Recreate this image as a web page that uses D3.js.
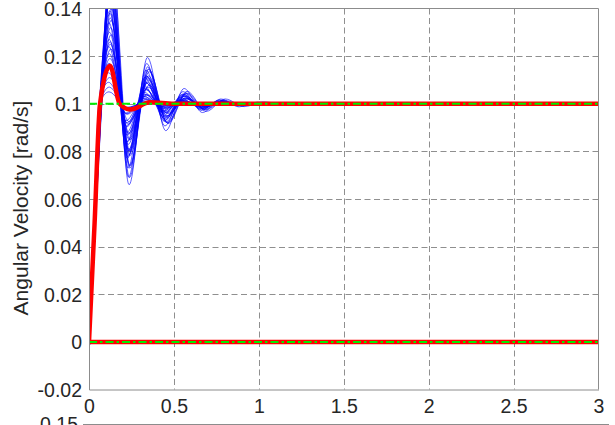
<!DOCTYPE html>
<html>
<head>
<meta charset="utf-8">
<script src="https://cdn.jsdelivr.net/npm/d3@7"></script>
<style>
  html, body { margin: 0; padding: 0; background: #ffffff; }
  svg { display: block; }
  text { font-family: "Liberation Sans", Arial, Helvetica, sans-serif; fill: #262626; }
</style>
</head>
<body>
<svg id="chart" width="615" height="425"></svg>
<script>
// Axis ticks
const xTicks = [0, 0.5, 1, 1.5, 2, 2.5, 3];
const xTickLabels = ["0", "0.5", "1", "1.5", "2", "2.5", "3"];
const yTicks = [-0.02, 0, 0.02, 0.04, 0.06, 0.08, 0.1, 0.12, 0.14];
const yTickLabels = ["-0.02", "0", "0.02", "0.04", "0.06", "0.08", "0.1", "0.12", "0.14"];
const yLabel = "Angular Velocity [rad/s]";

// Commanded angular velocity levels (dashed reference lines)
const referenceLevels = [0.1, 0];

// Nominal responses [time s, rad/s]
const nominalStep = [[0,0],[0.033,0.05],[0.065,0.1],[0.124,0.116],[0.18,0.1],[0.242,0.0976],[0.36,0.1006],[0.5,0.1],[3,0.1]];
const nominalZero = [[0,0],[3,0]];

// Monte Carlo runs, step channel: [time s, rad/s] at the turning points
const runsStep = [
  [[0,0],[0.036,0.05],[0.071,0.1],[0.128,0.160],[0.236,0.066],[0.344,0.1194],[0.452,0.0887],[0.56,0.1064],[0.668,0.0963],[0.776,0.102],[0.884,0.0987],[0.992,0.1007],[1.1,0.1],[3,0.1]],
  [[0,0],[0.035,0.05],[0.069,0.1],[0.126,0.156],[0.233,0.0692],[0.34,0.1169],[0.447,0.0907],[0.554,0.1051],[0.661,0.0972],[0.768,0.1016],[0.875,0.0992],[0.98,0.1],[3,0.1]],
  [[0,0],[0.034,0.05],[0.067,0.1],[0.124,0.152],[0.23,0.073],[0.336,0.1141],[0.442,0.0927],[0.548,0.1038],[0.654,0.098],[0.76,0.101],[0.87,0.1],[3,0.1]],
  [[0,0],[0.037,0.05],[0.073,0.1],[0.13,0.15],[0.24,0.073],[0.35,0.1146],[0.46,0.0921],[0.57,0.1043],[0.68,0.0977],[0.79,0.1012],[0.9,0.0993],[1.0,0.1],[3,0.1]],
  [[0,0],[0.033,0.05],[0.065,0.1],[0.122,0.148],[0.226,0.077],[0.33,0.1111],[0.434,0.0947],[0.538,0.1026],[0.642,0.0988],[0.746,0.1006],[0.84,0.1],[3,0.1]],
  [[0,0],[0.035,0.05],[0.07,0.1],[0.127,0.146],[0.239,0.0742],[0.351,0.1144],[0.463,0.0919],[0.575,0.1045],[0.687,0.0975],[0.799,0.1014],[0.911,0.0992],[1.02,0.1],[3,0.1]],
  [[0,0],[0.034,0.05],[0.068,0.1],[0.125,0.144],[0.23,0.0802],[0.335,0.1089],[0.44,0.096],[0.545,0.1018],[0.65,0.0992],[0.75,0.1],[3,0.1]],
  [[0,0],[0.032,0.05],[0.063,0.1],[0.12,0.142],[0.228,0.0777],[0.336,0.1118],[0.444,0.0937],[0.552,0.1033],[0.66,0.0982],[0.768,0.1009],[0.87,0.1],[3,0.1]],
  [[0,0],[0.038,0.05],[0.075,0.1],[0.132,0.14],[0.241,0.08],[0.35,0.11],[0.459,0.095],[0.568,0.1025],[0.677,0.0988],[0.786,0.1006],[0.89,0.1],[3,0.1]],
  [[0,0],[0.033,0.05],[0.066,0.1],[0.123,0.138],[0.226,0.084],[0.329,0.1067],[0.432,0.0972],[0.535,0.1012],[0.638,0.0995],[0.74,0.1],[3,0.1]],
  [[0,0],[0.035,0.05],[0.069,0.1],[0.126,0.136],[0.236,0.0802],[0.346,0.1109],[0.456,0.094],[0.566,0.1033],[0.676,0.0982],[0.786,0.101],[0.896,0.0995],[1.0,0.1],[3,0.1]],
  [[0,0],[0.031,0.05],[0.061,0.1],[0.118,0.134],[0.222,0.084],[0.326,0.1075],[0.43,0.0965],[0.534,0.1017],[0.638,0.0992],[0.74,0.1],[3,0.1]],
  [[0,0],[0.036,0.05],[0.071,0.1],[0.128,0.132],[0.235,0.0808],[0.342,0.1115],[0.449,0.0931],[0.556,0.1041],[0.663,0.0975],[0.77,0.1015],[0.877,0.0991],[0.98,0.1],[3,0.1]],
  [[0,0],[0.032,0.05],[0.064,0.1],[0.121,0.13],[0.223,0.088],[0.325,0.1048],[0.427,0.0981],[0.529,0.1008],[0.63,0.1],[3,0.1]],
  [[0,0],[0.037,0.05],[0.074,0.1],[0.131,0.129],[0.242,0.0849],[0.353,0.1078],[0.464,0.0959],[0.575,0.1021],[0.686,0.0989],[0.797,0.1006],[0.9,0.1],[3,0.1]],
  [[0,0],[0.031,0.05],[0.062,0.1],[0.119,0.127],[0.219,0.0906],[0.319,0.1033],[0.419,0.0988],[0.519,0.1004],[0.6,0.1],[3,0.1]],
  [[0,0],[0.034,0.05],[0.068,0.1],[0.125,0.126],[0.231,0.0875],[0.337,0.106],[0.443,0.0971],[0.549,0.1014],[0.655,0.0993],[0.75,0.1],[3,0.1]],
  [[0,0],[0.03,0.05],[0.06,0.1],[0.117,0.124],[0.217,0.0928],[0.317,0.1022],[0.417,0.0994],[0.5,0.1],[3,0.1]],
  [[0,0],[0.036,0.05],[0.072,0.1],[0.129,0.123],[0.238,0.0874],[0.347,0.107],[0.456,0.0962],[0.565,0.1021],[0.674,0.0988],[0.783,0.1006],[0.88,0.1],[3,0.1]],
  [[0,0],[0.032,0.05],[0.063,0.1],[0.12,0.121],[0.223,0.092],[0.326,0.103],[0.429,0.0988],[0.532,0.1004],[0.62,0.1],[3,0.1]],
  [[0,0],[0.034,0.05],[0.067,0.1],[0.124,0.119],[0.229,0.0914],[0.334,0.1038],[0.439,0.0983],[0.544,0.1008],[0.64,0.1],[3,0.1]],
  [[0,0],[0.031,0.05],[0.061,0.1],[0.118,0.117],[0.218,0.0957],[0.318,0.1011],[0.42,0.1],[3,0.1]],
  [[0,0],[0.035,0.05],[0.07,0.1],[0.127,0.115],[0.235,0.0925],[0.343,0.1038],[0.451,0.0981],[0.559,0.1009],[0.66,0.1],[3,0.1]],
  [[0,0],[0.03,0.05],[0.059,0.1],[0.116,0.113],[0.216,0.0961],[0.316,0.1012],[0.42,0.1],[3,0.1]],
  [[0,0],[0.033,0.05],[0.065,0.1],[0.122,0.111],[0.226,0.0956],[0.33,0.1018],[0.434,0.0993],[0.53,0.1],[3,0.1]],
  [[0,0],[0.029,0.05],[0.058,0.1],[0.115,0.109],[0.215,0.0982],[0.32,0.1],[3,0.1]],
  [[0,0],[0.032,0.05],[0.063,0.1],[0.12,0.107],[0.22,0.0979],[0.32,0.1006],[0.42,0.1],[3,0.1]],
  [[0,0],[0.031,0.05],[0.061,0.1],[0.118,0.105],[0.22,0.0985],[0.32,0.1],[3,0.1]],
  [[0,0],[0.038,0.05],[0.076,0.1],[0.133,0.158],[0.241,0.0739],[0.349,0.1117],[0.457,0.0947],[0.565,0.1024],[0.673,0.0989],[0.781,0.1005],[0.88,0.1],[3,0.1]],
  [[0,0],[0.036,0.05],[0.072,0.1],[0.129,0.154],[0.234,0.0784],[0.339,0.1086],[0.444,0.0965],[0.549,0.1014],[0.654,0.0994],[0.75,0.1],[3,0.1]],
  [[0,0],[0.035,0.05],[0.07,0.1],[0.127,0.149],[0.23,0.0829],[0.333,0.106],[0.436,0.0979],[0.539,0.1007],[0.63,0.1],[3,0.1]],
  [[0,0],[0.034,0.05],[0.067,0.1],[0.124,0.144],[0.225,0.0868],[0.326,0.104],[0.427,0.0988],[0.52,0.1],[3,0.1]],
  [[0,0],[0.033,0.05],[0.065,0.1],[0.122,0.139],[0.222,0.0903],[0.322,0.1024],[0.422,0.0994],[0.52,0.1],[3,0.1]],
  [[0,0],[0.037,0.05],[0.073,0.1],[0.13,0.135],[0.242,0.0783],[0.354,0.1135],[0.466,0.0917],[0.578,0.1052],[0.69,0.0968],[0.802,0.102],[0.914,0.0988],[1.026,0.1008],[1.14,0.1],[3,0.1]],
  [[0,0],[0.035,0.05],[0.069,0.1],[0.126,0.125],[0.235,0.085],[0.344,0.109],[0.453,0.0946],[0.562,0.1032],[0.671,0.0981],[0.78,0.1012],[0.889,0.0993],[0.99,0.1],[3,0.1]],
  [[0,0],[0.037,0.05],[0.074,0.1],[0.131,0.162],[0.238,0.069],[0.345,0.1155],[0.452,0.0923],[0.559,0.1039],[0.666,0.0981],[0.773,0.101],[0.87,0.1],[3,0.1]]
];

// Monte Carlo runs, zero channel
const runsZero = [
  [[0,0],[0.005,-0.0012],[0.014,0],[3,0]]
];

// Lower subplot (only its top edge falls inside the figure)
const nextAxisTopLabel = "0.15";

const svg = d3.select("#chart");
svg.append("rect").attr("width", 615).attr("height", 425).attr("fill", "#ffffff");

const x = d3.scaleLinear().domain([0, 3]).range([89, 598.5]);
const y = d3.scaleLinear().domain([-0.02, 0.14]).range([389.5, 8.5]);

svg.append("defs").append("clipPath").attr("id", "plotClip")
  .append("rect")
  .attr("x", x(0)).attr("y", y(0.14))
  .attr("width", x(3) - x(0)).attr("height", y(-0.02) - y(0.14));

// Grid
const grid = svg.append("g").attr("stroke", "#8f8f8f").attr("stroke-width", 1)
  .attr("stroke-dasharray", "6,3.5").attr("fill", "none");
grid.selectAll("line.gx").data(xTicks.slice(1, -1)).join("line")
  .attr("x1", d => Math.round(x(d)) + 0.5).attr("x2", d => Math.round(x(d)) + 0.5)
  .attr("y1", y(0.14)).attr("y2", y(-0.02));
grid.selectAll("line.gy").data(yTicks.slice(1, -1)).join("line")
  .attr("y1", d => Math.round(y(d)) + 0.5).attr("y2", d => Math.round(y(d)) + 0.5)
  .attr("x1", x(0)).attr("x2", x(3));

const line = d3.line().x(d => x(d[0])).y(d => y(d[1])).curve(d3.curveMonotoneX);
const plot = svg.append("g").attr("clip-path", "url(#plotClip)");

// Monte Carlo runs
plot.append("g").selectAll("path").data(runsZero.concat(runsStep)).join("path")
  .attr("d", line).attr("fill", "none")
  .attr("stroke", "#0000ff").attr("stroke-width", 0.8).attr("stroke-opacity", 0.8);

// Nominal responses
plot.append("g").selectAll("path").data([nominalZero, nominalStep]).join("path")
  .attr("d", line).attr("fill", "none")
  .attr("stroke", "#ff0000").attr("stroke-width", 4.5).attr("stroke-linejoin", "round");

// Reference levels
plot.append("g").selectAll("line").data(referenceLevels).join("line")
  .attr("x1", x(0)).attr("x2", x(3))
  .attr("y1", d => y(d)).attr("y2", d => y(d))
  .attr("stroke", "#00ee00").attr("stroke-width", 2)
  .attr("stroke-dasharray", "8,3,2.5,3");

// Axes
const axisColor = "#8c8c8c";
const yAxis = svg.append("g").attr("transform", `translate(${x(0)},0)`)
  .call(d3.axisLeft(y).tickValues(yTicks).tickFormat((d, i) => yTickLabels[i])
    .tickSize(0).tickSizeOuter(0).tickPadding(7));
const xAxis = svg.append("g").attr("transform", `translate(0,${y(-0.02)})`)
  .call(d3.axisBottom(x).tickValues(xTicks).tickFormat((d, i) => xTickLabels[i])
    .tickSize(0).tickSizeOuter(0).tickPadding(10));
[xAxis, yAxis].forEach(a => {
  a.select(".domain").attr("stroke", axisColor);
  a.selectAll("text").attr("font-size", 19.5).attr("fill", "#262626")
    .attr("font-family", "\"Liberation Sans\", Arial, Helvetica, sans-serif");
});
yAxis.selectAll("text").attr("dy", "0.36em");

// Box: top and right edges
svg.append("line").attr("x1", x(0)).attr("x2", x(3)).attr("y1", y(0.14)).attr("y2", y(0.14))
  .attr("stroke", axisColor);
svg.append("line").attr("x1", x(3)).attr("x2", x(3)).attr("y1", y(0.14)).attr("y2", y(-0.02))
  .attr("stroke", axisColor);

// Y label
svg.append("text")
  .attr("transform", "translate(28,208) rotate(-90)")
  .attr("text-anchor", "middle").attr("font-size", 21).text(yLabel);

// Top edge of the lower subplot
svg.append("line").attr("x1", 83).attr("x2", 609).attr("y1", 424.5).attr("y2", 424.5)
  .attr("stroke", axisColor);
svg.append("text").attr("x", 78).attr("y", 424).attr("dy", "0.36em")
  .attr("text-anchor", "end").attr("font-size", 19.5).text(nextAxisTopLabel);
</script>
</body>
</html>
